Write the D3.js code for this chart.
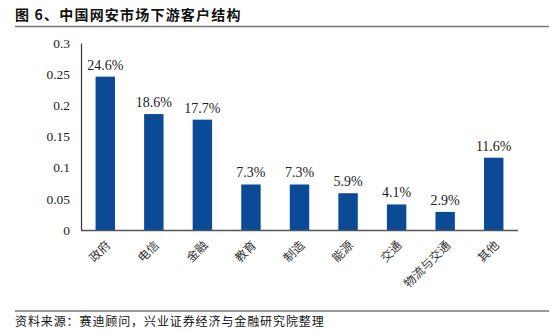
<!DOCTYPE html>
<html>
<head>
<meta charset="utf-8">
<script src="https://cdn.jsdelivr.net/npm/d3@7/dist/d3.min.js"></script>
<style>
  html, body { margin: 0; padding: 0; background: #fff; }
  svg { display: block; }
</style>
</head>
<body>
<script>
// Downstream customer structure of China's cybersecurity market
const categories = ["政府", "电信", "金融", "教育", "制造", "能源", "交通", "物流与交通", "其他"];
const shares = [0.246, 0.186, 0.177, 0.073, 0.073, 0.059, 0.041, 0.029, 0.116];
const shareLabels = ["24.6%", "18.6%", "17.7%", "7.3%", "7.3%", "5.9%", "4.1%", "2.9%", "11.6%"];
const yTicks = [0, 0.05, 0.1, 0.15, 0.2, 0.25, 0.3];
const titleText = "图 6、中国网安市场下游客户结构";
const sourceText = "资料来源：赛迪顾问，兴业证券经济与金融研究院整理";

const W = 554, H = 331;
const svg = d3.select("body").append("svg").attr("width", W).attr("height", H);

const serif = "Liberation Serif, DejaVu Serif, serif";
const cjk = "'Noto Sans CJK SC', sans-serif";
const barColor = "#0B4A96";

// Title and rules
svg.append("text")
  .attr("x", 15).attr("y", 20)
  .attr("font-family", cjk).attr("font-weight", "bold")
  .attr("font-size", 14).attr("letter-spacing", 1.2).attr("fill", "#111")
  .text(titleText);
svg.append("line")
  .attr("x1", 15).attr("x2", 549).attr("y1", 26.5).attr("y2", 26.5)
  .attr("stroke", "#777").attr("stroke-width", 1.5);
svg.append("line")
  .attr("x1", 15).attr("x2", 549).attr("y1", 311).attr("y2", 311)
  .attr("stroke", "#777").attr("stroke-width", 1.5);
svg.append("text")
  .attr("x", 15).attr("y", 326)
  .attr("font-family", cjk).attr("font-size", 12).attr("letter-spacing", 0.9).attr("fill", "#111")
  .text(sourceText);

// Plot area
const plotLeft = 81, plotRight = 518, plotTop = 43, plotBottom = 230;
const x = d3.scaleBand().domain(categories).range([plotLeft, plotRight]).paddingInner(0.6).paddingOuter(0.3);
const y = d3.scaleLinear().domain([0, 0.3]).range([plotBottom, plotTop]);

// Bars
svg.append("g").selectAll("rect")
  .data(categories)
  .join("rect")
  .attr("x", d => x(d))
  .attr("width", x.bandwidth())
  .attr("y", (d, i) => y(shares[i]))
  .attr("height", (d, i) => plotBottom - y(shares[i]))
  .attr("fill", barColor);

// Value labels
svg.append("g").selectAll("text")
  .data(categories)
  .join("text")
  .attr("x", d => x(d) + x.bandwidth() / 2)
  .attr("y", (d, i) => y(shares[i]) - 7)
  .attr("text-anchor", "middle")
  .style("font-family", serif)
  .attr("font-size", 14).attr("fill", "#222")
  .text((d, i) => shareLabels[i]);

// Y axis
const yAxis = svg.append("g")
  .attr("transform", `translate(${plotLeft},0)`)
  .call(d3.axisLeft(y).tickValues(yTicks).tickSize(0).tickPadding(11).tickFormat(d => String(+d.toFixed(2))));
yAxis.select(".domain").attr("stroke", "#333").attr("stroke-width", 1.2);
yAxis.selectAll("text").style("font-family", serif).attr("font-size", 13.5).attr("fill", "#222");

// X axis
const xAxis = svg.append("g")
  .attr("transform", `translate(0,${plotBottom})`)
  .call(d3.axisBottom(x).tickSize(0).tickPadding(0));
xAxis.select(".domain").attr("stroke", "#555").attr("stroke-width", 1.5)
  .attr("d", `M${plotLeft},0.5H${plotRight}`);
xAxis.selectAll("text")
  .attr("font-family", cjk).attr("font-size", 12).attr("fill", "#333")
  .attr("text-anchor", "end")
  .attr("dy", null).attr("y", 0)
  .attr("transform", "translate(6,16) rotate(-45)");
</script>
</body>
</html>
